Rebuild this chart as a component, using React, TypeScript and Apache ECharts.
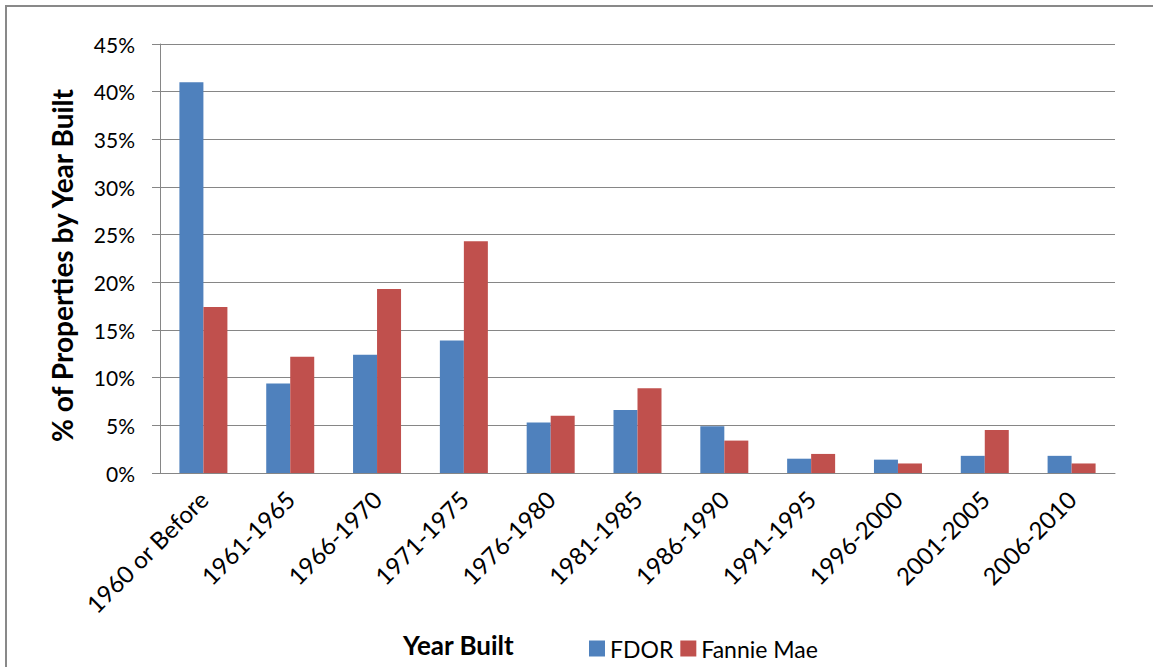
import React, { useEffect, useRef } from "react";
import * as echarts from "echarts";

const categories = [
  "1960 or Before",
  "1961-1965",
  "1966-1970",
  "1971-1975",
  "1976-1980",
  "1981-1985",
  "1986-1990",
  "1991-1995",
  "1996-2000",
  "2001-2005",
  "2006-2010",
];
const fdor = [41.0, 9.4, 12.4, 13.9, 5.3, 6.6, 4.9, 1.5, 1.4, 1.8, 1.8];
const fannieMae = [17.4, 12.2, 19.3, 24.3, 6.0, 8.9, 3.4, 2.0, 1.0, 4.5, 1.0];
const seriesNames = ["FDOR", "Fannie Mae"];
const yAxisTitle = "% of Properties by Year Built";
const xAxisTitle = "Year Built";

const FONT = "Lato, 'Open Sans', sans-serif";

export default function App() {
  const ref = useRef<HTMLDivElement>(null);
  useEffect(() => {
    document.body.style.margin = "0";
    const chart = echarts.init(ref.current!, undefined, { renderer: "svg" });
    chart.setOption({
      animation: false,
      backgroundColor: "#ffffff",
      textStyle: { fontFamily: FONT },
      title: {
        text: xAxisTitle,
        left: 398,
        top: 627,
        textStyle: { fontFamily: FONT, fontSize: 26, fontWeight: "bold", color: "#000" },
      },
      legend: {
        data: seriesNames,
        left: 584,
        top: 632,
        itemWidth: 16,
        itemHeight: 16,
        itemGap: 7,
        icon: "rect",
        textStyle: { fontFamily: FONT, fontSize: 23, color: "#000" },
      },
      grid: { left: 160, right: 38, top: 44, bottom: 194, containLabel: false },
      xAxis: {
        type: "category",
        data: categories,
        axisLine: { show: true, lineStyle: { color: "#868686", width: 1 } },
        axisTick: { show: false },
        axisLabel: {
          rotate: 45,
          interval: 0,
          fontFamily: FONT,
          fontSize: 24,
          color: "#000",
          margin: 22,
        },
      },
      yAxis: {
        type: "value",
        min: 0,
        max: 45,
        interval: 5,
        name: yAxisTitle,
        nameLocation: "middle",
        nameGap: 84,
        nameTextStyle: {
          fontFamily: FONT,
          fontSize: 28,
          fontWeight: "bold",
          color: "#000",
          padding: [0, 14, 0, 0],
        },
        axisLine: { show: true, lineStyle: { color: "#868686", width: 1 } },
        axisTick: { show: true, length: 8, lineStyle: { color: "#868686" } },
        splitLine: { show: true, lineStyle: { color: "#868686", width: 1 } },
        axisLabel: {
          formatter: "{value}%",
          fontFamily: FONT,
          fontSize: 21,
          color: "#000",
          margin: 25,
        },
      },
      series: [
        {
          name: seriesNames[0],
          type: "bar",
          data: fdor,
          barWidth: 24,
          barGap: "0%",
          itemStyle: { color: "#4F81BD" },
        },
        {
          name: seriesNames[1],
          type: "bar",
          data: fannieMae,
          barWidth: 24,
          barGap: "0%",
          itemStyle: { color: "#C0504D" },
        },
      ],
      graphic: [
        {
          type: "rect",
          shape: { x: 6, y: 6, width: 1200, height: 720 },
          style: { fill: "none", stroke: "#898989", lineWidth: 2 },
          silent: true,
        },
      ],
    });
    return () => chart.dispose();
  }, []);
  return <div ref={ref} style={{ position: "absolute", left: 0, top: 0, width: 1153, height: 667 }} />;
}
